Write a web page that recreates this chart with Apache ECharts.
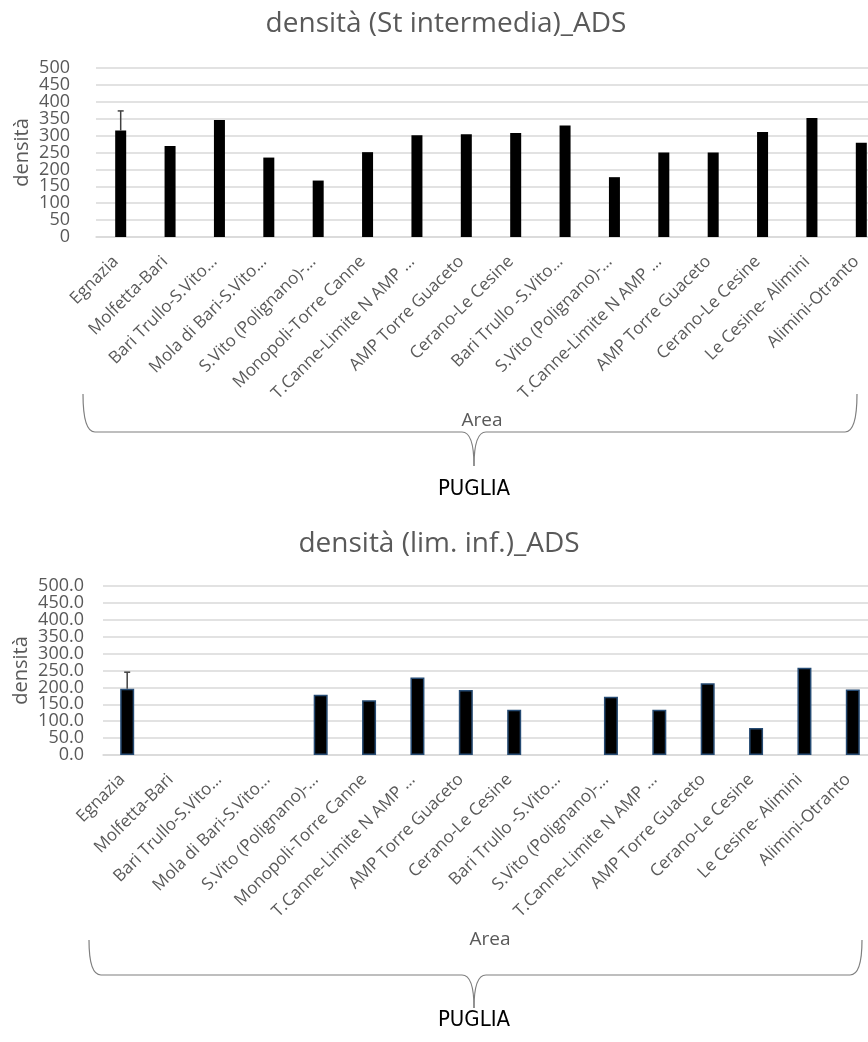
<!DOCTYPE html>
<html>
<head>
<meta charset="utf-8">
<script src="https://cdn.jsdelivr.net/npm/echarts@6/dist/echarts.min.js"></script>
<style>
  html, body { margin: 0; padding: 0; background: #fff; }
  #chart { width: 868px; height: 1042px; }
</style>
</head>
<body>
<div id="chart"></div>
<script>
// Transect areas along the Puglia coast
const areas = [
  'Egnazia', 'Molfetta-Bari', 'Bari Trullo-S.Vito…', 'Mola di Bari-S.Vito…',
  'S.Vito (Polignano)-…', 'Monopoli-Torre Canne', 'T.Canne-Limite N AMP …',
  'AMP Torre Guaceto', 'Cerano-Le Cesine', 'Bari Trullo -S.Vito…',
  'S.Vito (Polignano)-…', 'T.Canne-Limite N AMP …', 'AMP Torre Guaceto',
  'Cerano-Le Cesine', 'Le Cesine- Alimini', 'Alimini-Otranto'
];

// densità (St intermedia)
const densIntermedia = [315, 269, 346, 235, 167, 251, 301, 304, 308, 330, 177, 250, 250, 311, 352, 279];
const errIntermedia  = [373, null, null, null, null, null, null, null, null, null, null, null, null, null, null, null];

// densità (lim. inf.) – empty where no value was recorded
const densLimInf = [196, null, null, null, 178, 162, 229, 192, 134, null, 172, 134, 212, 80, 258, 194];
const errLimInf  = [245, null, null, null, null, null, null, null, null, null, null, null, null, null, null, null];

// y tick values (0 … 500 by 50) for both charts
const yTicks = [0, 50, 100, 150, 200, 250, 300, 350, 400, 450, 500];

const gray = '#595959';
const font = '"Open Sans", "Noto Sans", sans-serif';
const narrow = '"Liberation Sans Narrow", "DejaVu Sans Condensed", "Open Sans", sans-serif';

function errData(vals, highs) {
  const out = [];
  vals.forEach((v, i) => { if (highs[i] != null) out.push([i, v, highs[i]]); });
  return out;
}

function renderErr(params, api) {
  const lo = api.coord([api.value(0), api.value(1)]);
  const hi = api.coord([api.value(0), api.value(2)]);
  const style = { stroke: '#404040', lineWidth: 1.5 };
  return {
    type: 'group',
    children: [
      { type: 'line', shape: { x1: lo[0], y1: lo[1], x2: hi[0], y2: hi[1] }, style },
      { type: 'line', shape: { x1: hi[0] - 3, y1: hi[1], x2: hi[0] + 3, y2: hi[1] }, style }
    ]
  };
}

// Tick labels are packed tightly (they touch each other), so they are drawn
// as a text series placed on the value axis instead of the built-in labels.
function tickLabelSeries(axisIndex, decimals, margin) {
  return {
    type: 'custom', xAxisIndex: axisIndex, yAxisIndex: axisIndex, silent: true,
    data: yTicks.map(v => [0, v]),
    renderItem(params, api) {
      const p = api.coord([0, api.value(1)]);
      return {
        type: 'text',
        x: params.coordSys.x - margin, y: p[1],
        style: {
          text: api.value(1).toFixed(decimals), fill: gray, font: `18px ${font}`,
          textAlign: 'right', textVerticalAlign: 'middle'
        }
      };
    }
  };
}

function yAxisFor(gridIndex, nameGap) {
  return {
    type: 'value', gridIndex, min: yTicks[0], max: yTicks[yTicks.length - 1],
    interval: yTicks[1] - yTicks[0],
    name: 'densità', nameLocation: 'middle', nameGap,
    nameTextStyle: { color: gray, fontSize: 20, fontFamily: font },
    axisLine: { show: false }, axisTick: { show: false },
    axisLabel: { show: false },
    splitLine: { lineStyle: { color: '#d9d9d9', width: 1.5 } }
  };
}

function xAxisFor(gridIndex) {
  return {
    type: 'category', gridIndex, data: areas,
    axisLine: { lineStyle: { color: '#d9d9d9', width: 1.5 } },
    axisTick: { show: false },
    axisLabel: {
      interval: 0, rotate: 45, color: gray, fontSize: 17, fontFamily: font,
      margin: 17, padding: [0, 7, 0, 0]
    }
  };
}

// Curly brace under the category labels, grouping all areas as PUGLIA
function brace(x1, x2, xm, yTop, yLine, yTip) {
  const r = 12;
  const style = { fill: null, stroke: '#7f7f7f', lineWidth: 1.2 };
  const curve = (ax, ay, cx, cy, bx, by) =>
    ({ type: 'bezierCurve', shape: { x1: ax, y1: ay, cpx1: cx, cpy1: cy, x2: bx, y2: by }, style });
  const seg = (ax, ay, bx, by) =>
    ({ type: 'line', shape: { x1: ax, y1: ay, x2: bx, y2: by }, style });
  return {
    type: 'group',
    children: [
      curve(x1, yTop, x1, yLine, x1 + r, yLine),
      seg(x1 + r, yLine, xm - r, yLine),
      curve(xm - r, yLine, xm, yLine, xm, yTip),
      curve(xm, yTip, xm, yLine, xm + r, yLine),
      seg(xm + r, yLine, x2 - r, yLine),
      curve(x2 - r, yLine, x2, yLine, x2, yTop)
    ]
  };
}

function label(text, x, y, color, css) {
  return {
    type: 'text', x, y,
    style: { text, fill: color, font: css, textAlign: 'center', textVerticalAlign: 'middle' }
  };
}

const chart = echarts.init(document.getElementById('chart'), null, { renderer: 'canvas' });
chart.setOption({
  animation: false,
  backgroundColor: '#fff',
  // the plot areas run slightly past the right edge of the page
  grid: [
    { left: 96, top: 68, width: 790, height: 169, outerBoundsMode: 'none', containLabel: false },
    { left: 103, top: 586, width: 774, height: 169, outerBoundsMode: 'none', containLabel: false }
  ],
  xAxis: [xAxisFor(0), xAxisFor(1)],
  yAxis: [yAxisFor(0, 64), yAxisFor(1, 72)],
  series: [
    {
      type: 'bar', xAxisIndex: 0, yAxisIndex: 0, data: densIntermedia,
      barWidth: 11, itemStyle: { color: '#000' }
    },
    {
      type: 'custom', xAxisIndex: 0, yAxisIndex: 0,
      data: errData(densIntermedia, errIntermedia), renderItem: renderErr, z: 5
    },
    tickLabelSeries(0, 0, 26),
    {
      type: 'bar', xAxisIndex: 1, yAxisIndex: 1, data: densLimInf,
      barWidth: 14, itemStyle: { color: '#000', borderColor: '#264b73', borderWidth: 1.5 }
    },
    {
      type: 'custom', xAxisIndex: 1, yAxisIndex: 1,
      data: errData(densLimInf, errLimInf), renderItem: renderErr, z: 5
    },
    tickLabelSeries(1, 1, 19)
  ],
  graphic: [
    label('densità (St intermedia)_ADS', 446, 24, gray, `28px ${font}`),
    label('densità (lim. inf.)_ADS', 439, 544, gray, `28px ${font}`),
    brace(83, 857, 474, 394, 432, 466),
    brace(89, 862, 474, 940, 975, 1008),
    label('Area', 482, 421, gray, `19px ${font}`),
    label('Area', 490, 940, gray, `19px ${font}`),
    label('PUGLIA', 474, 489, '#000', `22px ${narrow}`),
    label('PUGLIA', 474, 1020, '#000', `22px ${narrow}`)
  ]
});
</script>
</body>
</html>
